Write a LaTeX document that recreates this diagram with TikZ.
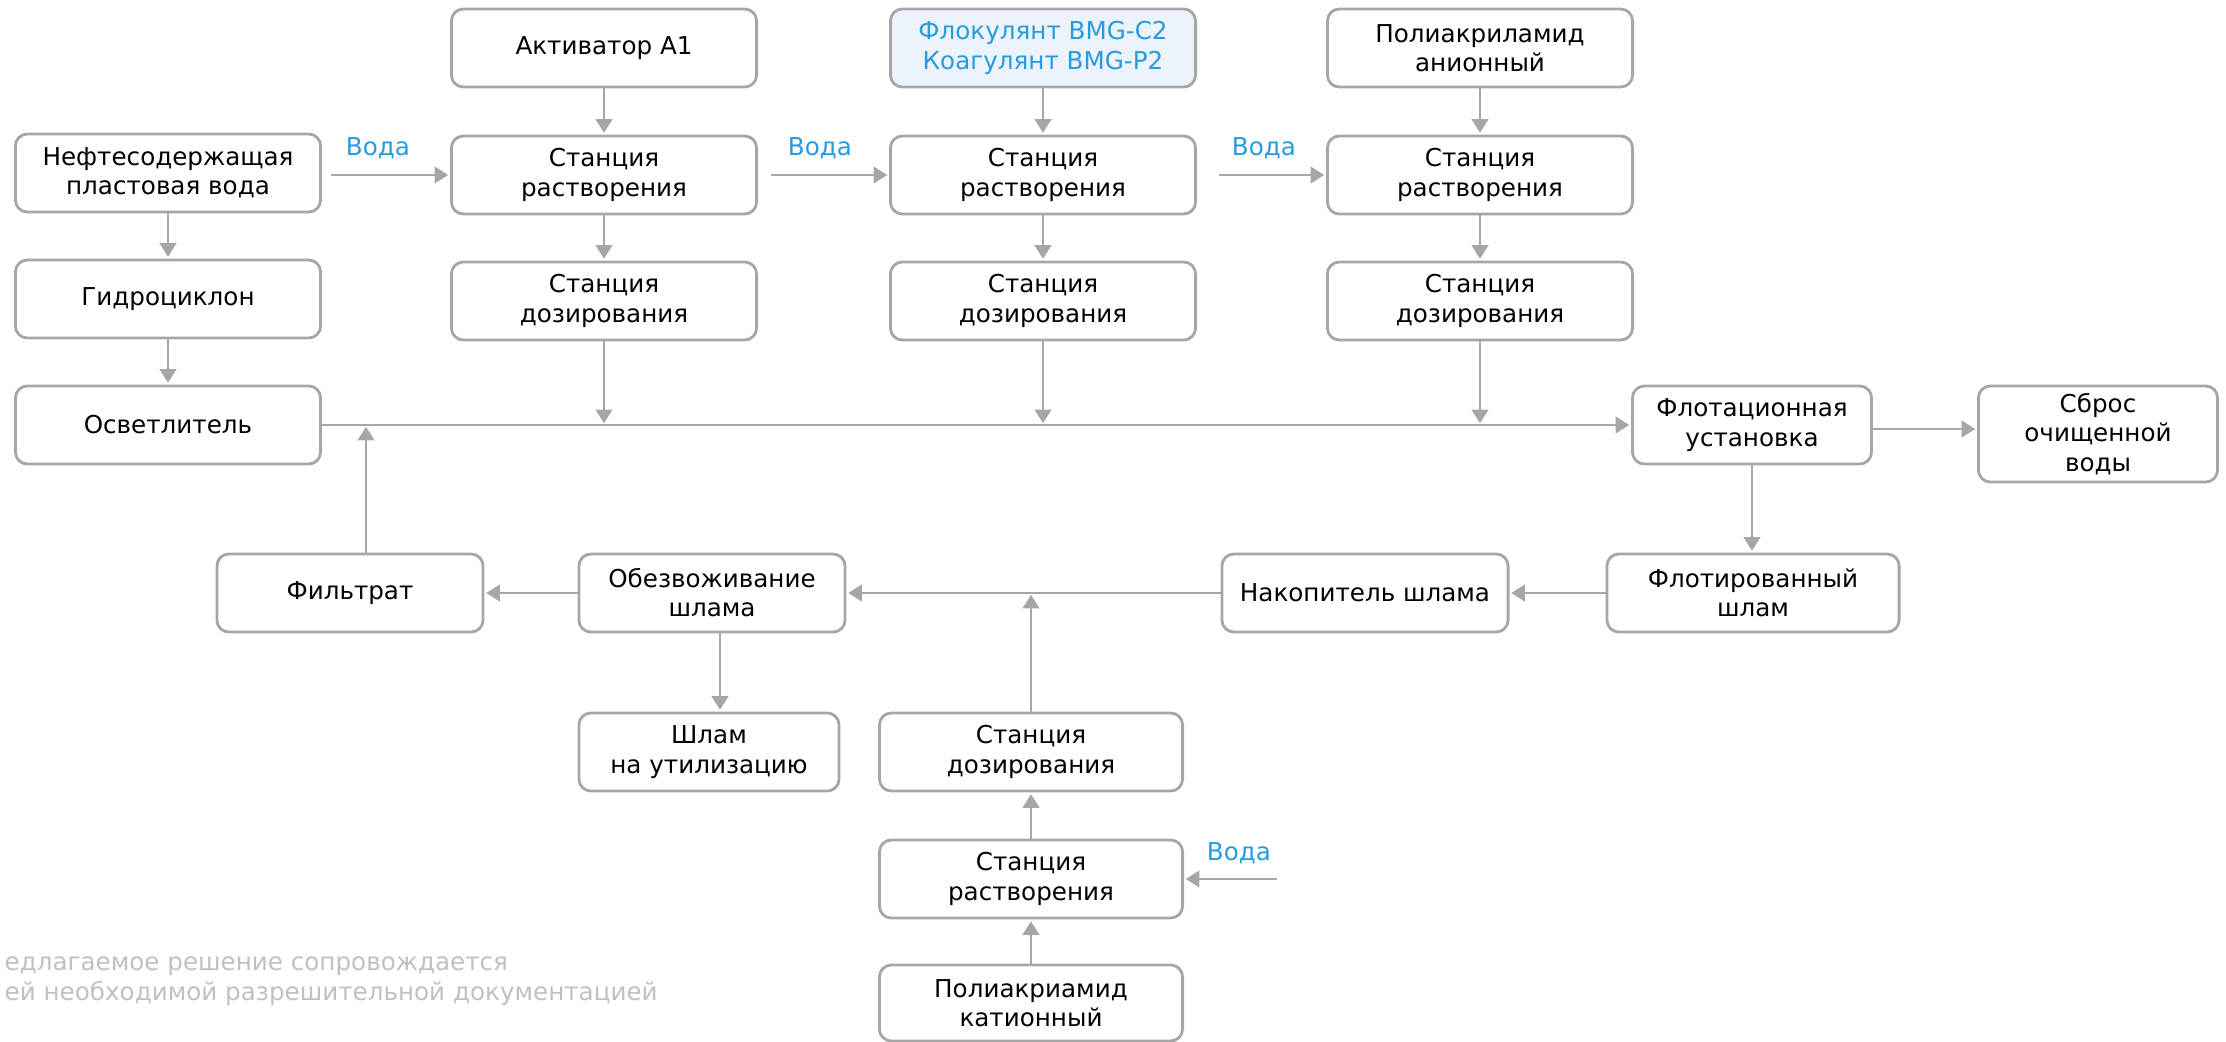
\documentclass[tikz,border=0pt]{standalone}
\usepackage{fontspec}
\setmainfont{DejaVu Sans}
\usetikzlibrary{arrows.meta,calc,positioning}
\definecolor{flowgray}{RGB}{166,166,166}
\definecolor{waterblue}{RGB}{38,155,222}
\definecolor{paleblue}{RGB}{236,243,251}
\definecolor{notegray}{RGB}{192,192,192}

\begin{document}
\begin{tikzpicture}[x=0.01cm,y=-0.01cm,
  font=\fontsize{7}{8.3}\selectfont,
  box/.style={draw=flowgray,line width=0.8pt,rounded corners=3.4pt,align=center,
    minimum width=3.05cm,minimum height=0.78cm,inner sep=1pt},
  arr/.style={draw=flowgray,line width=0.8pt,-{Triangle[length=3.9pt,width=4.7pt]},shorten >=0.5pt},
  water/.style={text=waterblue,inner sep=1pt},
  note/.style={text=notegray,inner sep=0pt}]
\useasboundingbox (0,0) rectangle (2226,1042);
\clip (0,0) rectangle (2226,1042);

\node[box] (src) at (168,173) {Нефтесодержащая\\пластовая вода};
\node[box] (hyd) at (168,299) {Гидроциклон};
\node[box] (clar) at (168,425) {Осветлитель};

\node[box] (act) at (604,48) {Активатор A1};
\node[box] (dis1) at (604,175) {Станция\\растворения};
\node[box] (dos1) at (604,301) {Станция\\дозирования};

\node[box,fill=paleblue,text=waterblue] (floc) at (1043,48) {Флокулянт BMG-C2\\Коагулянт BMG-P2};
\node[box] (dis2) at (1043,175) {Станция\\растворения};
\node[box] (dos2) at (1043,301) {Станция\\дозирования};

\node[box] (pam) at (1480,48) {Полиакриламид\\анионный};
\node[box] (dis3) at (1480,175) {Станция\\растворения};
\node[box] (dos3) at (1480,301) {Станция\\дозирования};

\node[box,minimum width=2.39cm] (flot) at (1752,425) {Флотационная\\установка};
\node[box,minimum width=2.39cm,minimum height=0.96cm] (drop) at (2098,434) {Сброс\\очищенной\\воды};

\node[box,minimum width=2.92cm] (fsl) at (1753,593) {Флотированный\\шлам};
\node[box,minimum width=2.86cm] (acc) at (1365,593) {Накопитель шлама};
\node[box,minimum width=2.66cm] (dew) at (712,593) {Обезвоживание\\шлама};
\node[box,minimum width=2.66cm] (filt) at (350,593) {Фильтрат};
\node[box,minimum width=2.60cm] (util) at (709,752) {Шлам\\на утилизацию};

\node[box,minimum width=3.03cm] (dosb) at (1031,752) {Станция\\дозирования};
\node[box,minimum width=3.03cm] (disb) at (1031,879) {Станция\\растворения};
\node[box,minimum width=3.03cm,minimum height=0.76cm] (pamc) at (1031,1003) {Полиакриамид\\катионный};

\coordinate (w1) at (331,175);
\coordinate (w2) at (771,175);
\coordinate (w3) at (1219,175);
\coordinate (w4) at (1277,879);
\draw[arr] (w1) -- (w1 -| dis1.west);
\draw[arr] (w2) -- (w2 -| dis2.west);
\draw[arr] (w3) -- (w3 -| dis3.west);
\draw[arr] (w4) -- (w4 -| disb.east);
\node[water] (v1) at (378,148) {Вода};
\node[water] (v2) at (820,148) {Вода};
\node[water] (v3) at (1264,148) {Вода};
\node[water] (v4) at (1239,853) {Вода};

\draw[arr] (src) -- (hyd);
\draw[arr] (hyd) -- (clar);
\draw[arr] (act) -- (dis1);
\draw[arr] (dis1) -- (dos1);
\draw[arr] (floc) -- (dis2);
\draw[arr] (dis2) -- (dos2);
\draw[arr] (pam) -- (dis3);
\draw[arr] (dis3) -- (dos3);

\draw[arr] (clar) -- (flot);
\draw[arr] (dos1) -- (dos1 |- clar.east);
\draw[arr] (dos2) -- (dos2 |- clar.east);
\draw[arr] (dos3) -- (dos3 |- clar.east);
\coordinate (f1) at ($(filt.north)+(16,0)$);
\draw[arr] (f1) -- (f1 |- clar.east);

\coordinate (f2) at ($(flot.east)+(0,4)$);
\draw[arr] (f2) -- (f2 -| drop.west);
\draw[arr] (flot.south) -- (flot.south |- fsl.north);
\draw[arr] (fsl) -- (acc);
\draw[arr] (acc) -- (dew);
\draw[arr] (dew) -- (filt);
\coordinate (d1) at ($(dew.south)+(8,0)$);
\draw[arr] (d1) -- (d1 |- util.north);

\draw[arr] (dosb.north) -- (dosb.north |- dew.east);
\draw[arr] (disb) -- (dosb);
\draw[arr] (pamc) -- (disb);

\node[note,anchor=base west] (note1) at (4,970) {едлагаемое решение сопровождается};
\node[note,anchor=base west] (note2) at (4,1000) {ей необходимой разрешительной документацией};
\end{tikzpicture}
\end{document}
